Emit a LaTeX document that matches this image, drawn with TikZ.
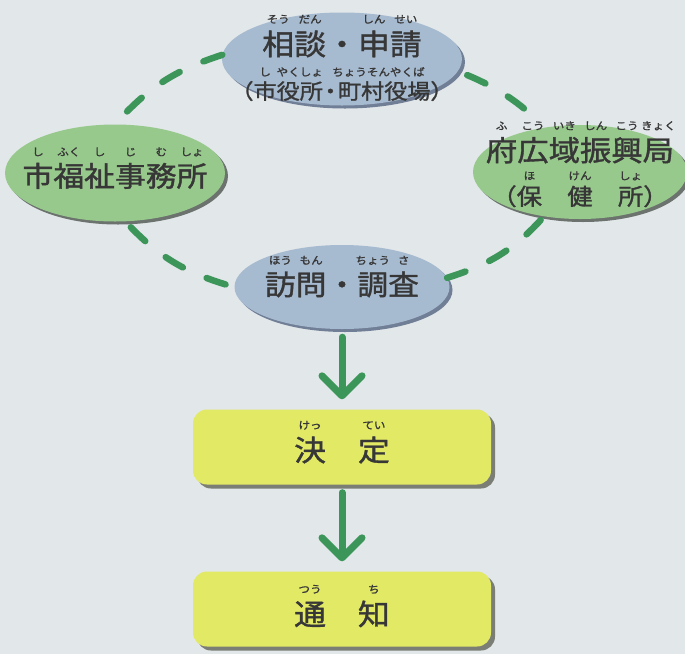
\documentclass[tikz,border=0pt]{standalone}
\usepackage{fontspec}
\newfontfamily\jp[FakeStretch=1.1, FakeBold=1.3]{Noto Sans CJK JP}
\usetikzlibrary{shapes.geometric,shadows,arrows.meta}

\definecolor{bgcol}{RGB}{226,231,234}
\definecolor{bluecol}{RGB}{166,186,208}
\definecolor{blueshd}{RGB}{112,126,150}
\definecolor{greencol}{RGB}{152,201,140}
\definecolor{greenshd}{RGB}{108,114,110}
\definecolor{yellowcol}{RGB}{226,233,100}
\definecolor{boxshd}{RGB}{122,126,116}
\definecolor{linkcol}{RGB}{60,150,90}
\definecolor{txtcol}{RGB}{55,55,55}

\newcommand{\rb}[2]{\ooalign{#1\cr\hidewidth\raisebox{1.1em}{\fontsize{10.5}{10.5}\selectfont #2}\hidewidth\cr}}
\newcommand{\tworows}[2]{\vtop{\baselineskip=44pt\lineskiplimit=-100pt\halign{\hfil##\hfil\cr#1\cr#2\cr}}}

\begin{document}
\begin{tikzpicture}[x=1pt, y=-1pt,
  every node/.style={font=\jp, text=txtcol},
  blueell/.style={ellipse, fill=bluecol, inner xsep=-40pt, inner ysep=0pt,
    drop shadow={shadow xshift=3pt, shadow yshift=-3pt, fill=blueshd, opacity=1}},
  greenell/.style={ellipse, fill=greencol, inner xsep=-40pt, inner ysep=0pt,
    drop shadow={shadow xshift=3pt, shadow yshift=-3pt, fill=greenshd, opacity=1}},
  yellowbox/.style={rectangle, rounded corners=14pt, fill=yellowcol,
    minimum width=298pt, minimum height=75pt,
    drop shadow={shadow xshift=4pt, shadow yshift=-4pt, fill=boxshd, opacity=1}},
  link/.style={draw=linkcol, line width=6.5pt, line cap=round, dash pattern=on 20pt off 26pt},
  flow/.style={draw=linkcol, line width=7pt, line cap=round,
    -{Straight Barb[length=20pt,width=40pt,round]}, shorten <=8pt, shorten >=10pt}]

  \useasboundingbox (0,0) rectangle (685,654);
  \fill[bgcol] (0,0) rectangle (685,654);

  \node[blueell, minimum width=240pt, minimum height=93pt, text height=0pt, text depth=8pt] (sodan) at (342,59)
    {\tworows{\fontsize{29}{29}\selectfont\rb{相}{そう}\rb{談}{だん}・\rb{申}{しん}\rb{請}{せい}}
             {\fontsize{21}{21}\selectfont（\rb{市}{し}\rb{役所}{やくしょ}\kern-4pt・\kern-4pt\rb{町村役}{ちょうそんやく}\rb{場}{ば}）}};
  \node[greenell, minimum width=220pt, minimum height=97pt, text height=27pt, text depth=0pt] (fukushi) at (115,173)
    {\fontsize{28}{28}\selectfont\rb{市}{し}\rb{福}{ふく}\rb{祉}{し}\rb{事}{じ}\rb{務}{む}\rb{所}{しょ}};
  \node[greenell, minimum width=214pt, minimum height=94pt, text height=0pt, text depth=22pt] (shinko) at (580,172)
    {\tworows{\fontsize{28.5}{28.5}\selectfont\rb{府}{ふ}\rb{広}{こう}\rb{域}{いき}\rb{振}{しん}\rb{興}{こう}\rb{局}{きょく}}
             {\fontsize{23}{23}\selectfont（\rb{保}{ほ}　\rb{健}{けん}　\rb{所}{しょ}）}};
  \node[blueell, minimum width=215pt, minimum height=84pt, text height=16pt, text depth=0pt] (homon) at (342,287)
    {\fontsize{28}{28}\selectfont\rb{訪}{ほう}\rb{問}{もん}・\rb{調}{ちょう}\rb{査}{さ}};

  \node[yellowbox, text height=28pt, text depth=0pt] (kettei) at (342,447)
    {\fontsize{29}{29}\selectfont\rb{決}{けっ}　\rb{定}{てい}};
  \node[yellowbox, text height=32pt, text depth=0pt] (tsuchi) at (342,609)
    {\fontsize{29}{29}\selectfont\rb{通}{つう}　\rb{知}{ち}};

  \draw[link] (sodan.178) to[bend right=15] (fukushi.north);
  \draw[link, shorten <=10pt, shorten >=12pt] (sodan.-6) to[bend left=10] (shinko.128);
  \draw[link, shorten <=8pt, shorten >=3pt] (fukushi.-78) to[bend right=15] (homon.west);
  \draw[link, shorten <=5pt] (shinko.-129) to[bend left=15] (homon.5);

  \draw[flow] (homon) -- (kettei);
  \draw[flow] (kettei) -- (tsuchi);
\end{tikzpicture}
\end{document}
